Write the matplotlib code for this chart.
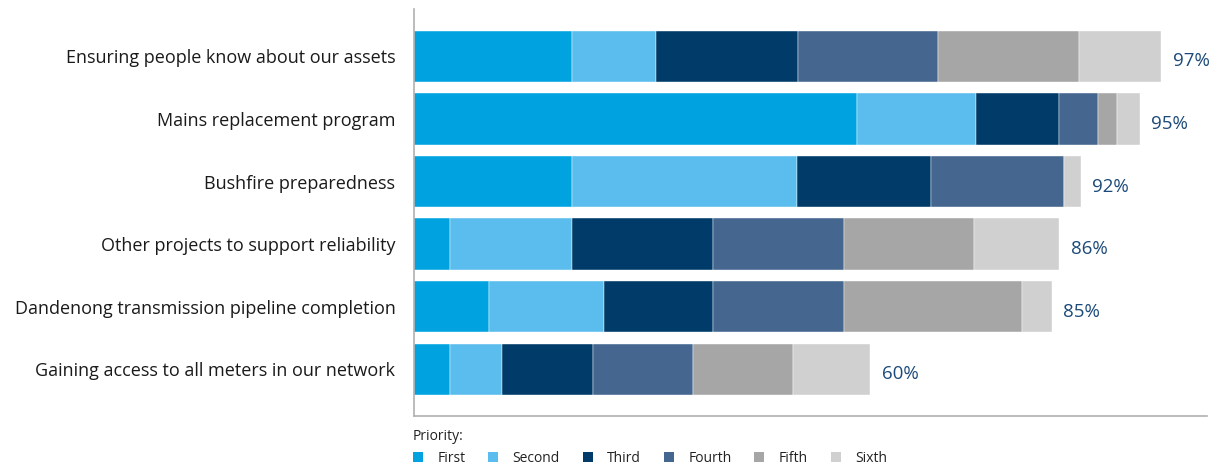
import matplotlib
matplotlib.use("Agg")
import matplotlib.pyplot as plt
from matplotlib.patches import Patch

plt.rcParams['font.family'] = ['Open Sans', 'DejaVu Sans']

categories = [
    "Ensuring people know about our assets",
    "Mains replacement program",
    "Bushfire preparedness",
    "Other projects to support reliability",
    "Dandenong transmission pipeline completion",
    "Gaining access to all meters in our network",
]
series_names = ["First", "Second", "Third", "Fourth", "Fifth", "Sixth"]
first  = [20.7, 57.9, 20.7, 4.8, 9.8, 4.8]
second = [11.0, 15.6, 29.4, 15.9, 15.1, 6.8]
third  = [18.5, 10.8, 17.5, 18.4, 14.2, 11.8]
fourth = [18.3, 5.2, 17.4, 17.1, 17.1, 13.1]
fifth  = [18.5, 2.5, 0.0, 17.1, 23.3, 13.1]
sixth  = [10.7, 2.9, 2.2, 11.1, 3.9, 10.1]
totals = ["97%", "95%", "92%", "86%", "85%", "60%"]

colors = ["#00A3E0", "#5BBDED", "#003B6A", "#44668F", "#A6A6A6", "#D0D0D0"]

fig = plt.figure(figsize=(12.17, 4.68), dpi=100)
ax = fig.add_axes([0.3398, 0.1111, 0.652, 0.8697])

series = [first, second, third, fourth, fifth, sixth]
y = list(range(len(categories)))
left = [0.0] * len(categories)
for name, vals, c in zip(series_names, series, colors):
    ax.barh(y, vals, left=left, height=0.823, color=c, label=name,
            edgecolor="white", linewidth=0.3)
    left = [l + v for l, v in zip(left, vals)]

for yi, end, t in zip(y, left, totals):
    ax.text(end + 1.5, yi + 0.08, t, va="center", ha="left",
            fontsize=13.5, color="#1B4A7A")

ax.set_xlim(0, 103.7)
ax.set_ylim(5.747, -0.759)
ax.set_yticks(y)
ax.set_yticklabels(categories, fontsize=13.0, color="#1a1a1a")
ax.tick_params(axis="y", length=0, pad=13)
ax.set_xticks([])
for s in ["top", "right"]:
    ax.spines[s].set_visible(False)
for s in ["left", "bottom"]:
    ax.spines[s].set_color("#B0B0B0")
    ax.spines[s].set_linewidth(1.2)

handles = [Patch(facecolor=c, edgecolor="none") for c in colors]
leg = fig.legend(handles, series_names, loc="lower left",
                 bbox_to_anchor=(0.3394, 0.004), ncol=6, frameon=False,
                 title="Priority:", fontsize=10, title_fontsize=10,
                 borderpad=0, borderaxespad=0,
                 handlelength=0.7, handleheight=0.7, handletextpad=1.05,
                 columnspacing=1.65, alignment="left")
for t in leg.get_texts():
    t.set_color("#222222")
leg.get_title().set_color("#222222")

fig.savefig("out.png", dpi=100)
